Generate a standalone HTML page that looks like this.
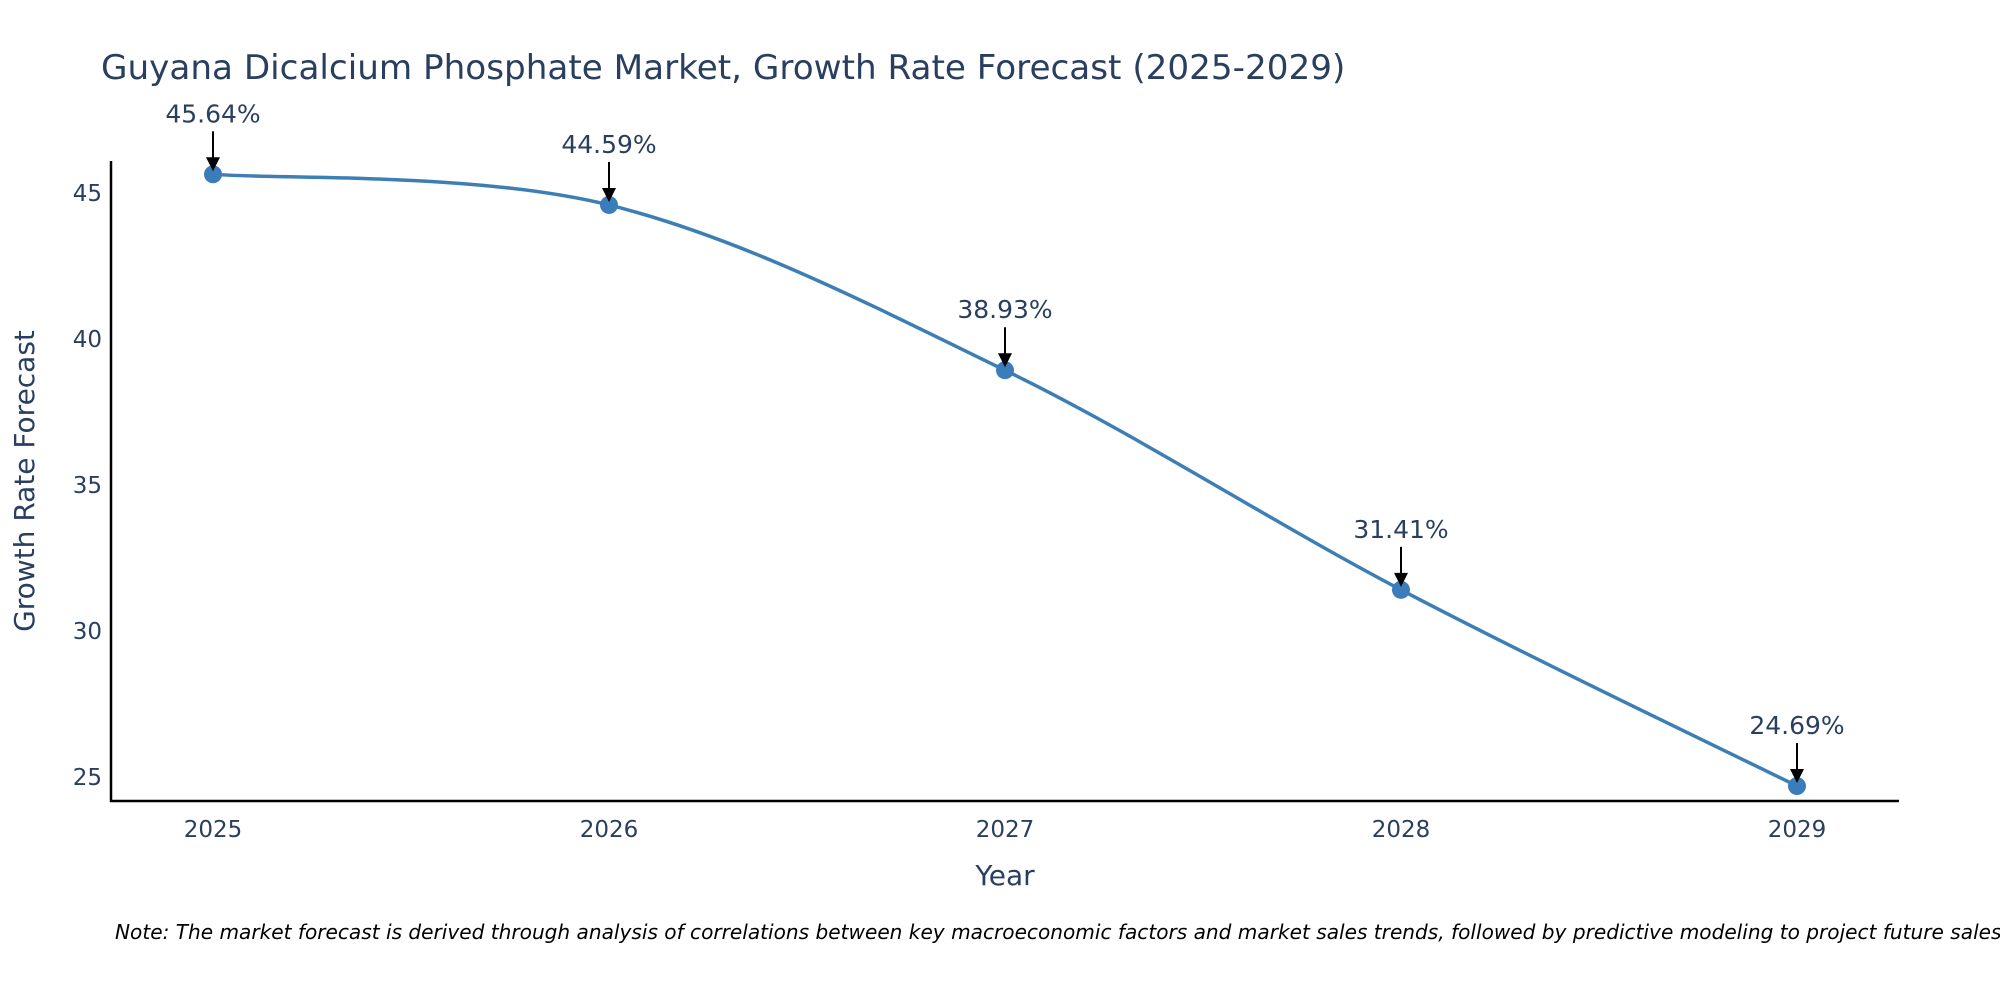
<!DOCTYPE html>
<html><head><meta charset="utf-8"><style>
html,body{margin:0;padding:0;background:#fff;}
svg{display:block;font-family:"DejaVu Sans","Liberation Sans",sans-serif;}
</style></head><body>
<svg id="chart" width="2000" height="1000" viewBox="0 0 2000 1000">
<text x="101" y="79" font-size="34.2" fill="#2a3f5f">Guyana Dicalcium Phosphate Market, Growth Rate Forecast (2025-2029)</text>
<g id="yticks"></g>
<g id="xticks"></g>
<path id="line" fill="none" stroke="#3d7fb4" stroke-width="3.5"></path>
<g id="points"></g>
<g id="annos"></g>
<line x1="111" y1="161" x2="111" y2="802" stroke="#000" stroke-width="2.5"/>
<line x1="110" y1="801" x2="1899" y2="801" stroke="#000" stroke-width="2.5"/>
<text transform="translate(34,481) rotate(-90)" text-anchor="middle" font-size="28" fill="#2a3f5f">Growth Rate Forecast</text>
<text x="1005" y="885" text-anchor="middle" font-size="28" fill="#2a3f5f">Year</text>
<text x="115" y="939" font-size="20.1" font-style="italic" fill="#000">Note: The market forecast is derived through analysis of correlations between key macroeconomic factors and market sales trends, followed by predictive modeling to project future sales</text>
</svg>
<script>
const years = [2025, 2026, 2027, 2028, 2029];
const values = [45.64, 44.59, 38.93, 31.41, 24.69];
const labels = ["45.64%", "44.59%", "38.93%", "31.41%", "24.69%"];
const yTickValues = [25, 30, 35, 40, 45];

const NS = "http://www.w3.org/2000/svg";
function xScale(yr){ return 213 + (yr - 2025) * (1797 - 213) / 4; }
function yScale(v){ return 777 - (v - 25) * (777 - 193) / 20; }
function mk(tag, attrs, parent){ const e=document.createElementNS(NS,tag); for(const k in attrs) e.setAttribute(k,attrs[k]); parent.appendChild(e); return e; }

const yt = document.getElementById('yticks');
yTickValues.forEach(v=>{
  const t = mk('text',{x:102,y:yScale(v)+8,'text-anchor':'end','font-size':23,fill:'#2a3f5f'},yt);
  
  
  t.textContent = v;
});
const xt = document.getElementById('xticks');
years.forEach(y=>{
  const t = mk('text',{x:xScale(y),y:837,'text-anchor':'middle','font-size':23,fill:'#2a3f5f'},xt);
  
  
  t.textContent = y;
});

const pts = years.map((y,i)=>[xScale(y), yScale(values[i])]);
let d = `M${pts[0][0]},${pts[0][1]}`;
const tension = 1/6;
for(let i=0;i<pts.length-1;i++){
  const p0=pts[Math.max(0,i-1)], p1=pts[i], p2=pts[i+1], p3=pts[Math.min(pts.length-1,i+2)];
  const c1=[p1[0]+(p2[0]-p0[0])*tension, p1[1]+(p2[1]-p0[1])*tension];
  const c2=[p2[0]-(p3[0]-p1[0])*tension, p2[1]-(p3[1]-p1[1])*tension];
  d += ` C${c1[0]},${c1[1]} ${c2[0]},${c2[1]} ${p2[0]},${p2[1]}`;
}
document.getElementById('line').setAttribute('d', d);

const pg = document.getElementById('points');
const ag = document.getElementById('annos');
pts.forEach((p,i)=>{
  const c = mk('circle',{cx:p[0],cy:p[1],r:9,fill:'#3b7dba'},pg);
  
  
  const ln = mk('line',{x1:p[0],y1:p[1]-43,x2:p[0],y2:p[1]-14,stroke:'#000','stroke-width':2},ag);
  
  
  const hd = mk('polygon',{points:`${p[0]-7},${p[1]-17} ${p[0]+7},${p[1]-17} ${p[0]},${p[1]-3}`,fill:'#000'},ag);
  
  
  const t = mk('text',{x:p[0],y:p[1]-52,'text-anchor':'middle','font-size':25,fill:'#2a3f5f'},ag);
  
  
  t.textContent = labels[i];
});
</script>
</body></html>
